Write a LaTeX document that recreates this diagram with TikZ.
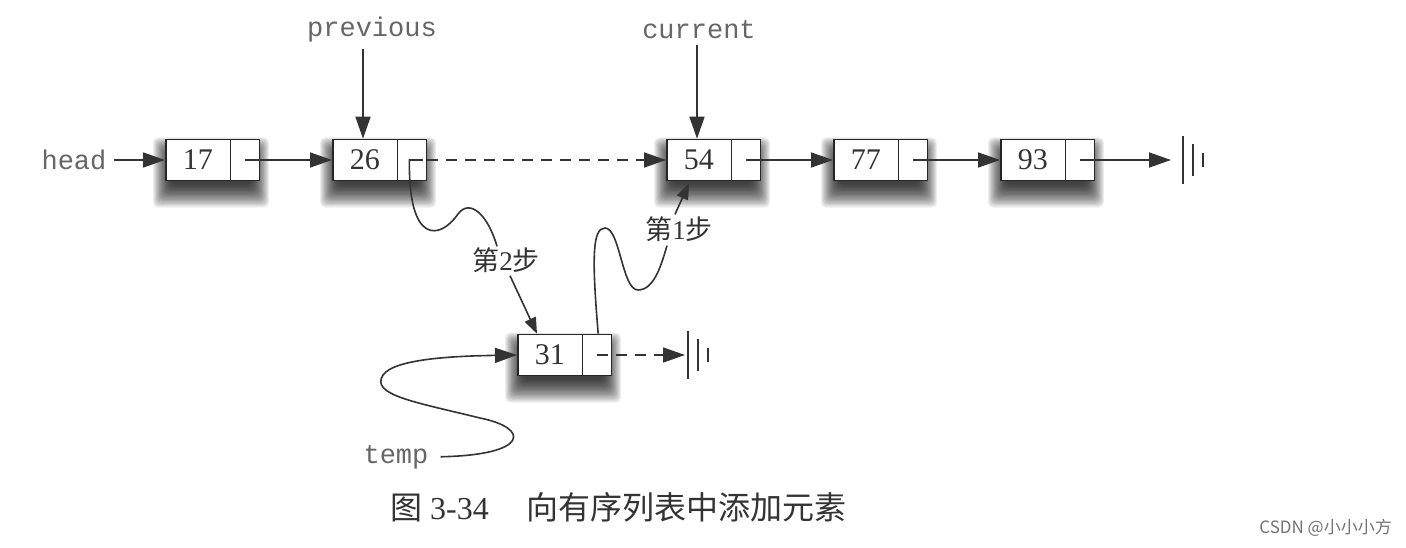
\documentclass[tikz,border=0pt]{standalone}
\usepackage{fontspec}
\setmainfont{Liberation Serif}
\setmonofont{Liberation Mono}
\newfontfamily\cjk{Noto Sans CJK SC}
\usetikzlibrary{calc,positioning,shapes.multipart,arrows.meta}

\tikzset{
  wire/.style={line width=1.6pt, color=black!80},
  arr/.style={wire, -{Triangle[length=22pt,width=15pt]}},
  sarr/.style={wire, -{Triangle[length=16pt,width=12pt]}},
  nilarr/.style={arr, dash pattern=on 11pt off 8pt},
  listnode/.style={rectangle split, rectangle split horizontal, rectangle split parts=2,
    draw=black!85, line width=1.6pt, fill=white, inner xsep=0pt, inner ysep=0pt,
    minimum height=41pt, font=\fontsize{30}{30}\selectfont, text=black!80, anchor=west},
  varname/.style={font=\ttfamily\fontsize{27}{27}\selectfont, text=black!60, inner sep=0pt},
  steplabel/.style={font=\fontsize{27}{27}\selectfont, text=black!80, inner sep=1pt},
}
% soft shadow under a box, then the box
\def\cell(#1)(#2,#3)#4{%
  \foreach \k in {-6,...,12}
    \fill[black, opacity=.065, rounded corners=5pt] (#2-\k, #3-10.5-\k) rectangle (#2+92+\k, #3+32+1.3*\k);
  \node[listnode] (#1) at (#2,#3) {\makebox[64pt]{#4}\nodepart{two}\makebox[28pt]{}};}
\def\earth(#1){\draw[wire] (#1)+(0,-24) -- +(0,24); \draw[wire] (#1)+(10,-16) -- +(10,16); \draw[wire] (#1)+(20,-7) -- +(20,7);}

\begin{document}
\begin{tikzpicture}[x=1pt,y=-1pt]
	%%%%% list %%%%%
	\useasboundingbox[fill=white] (0,0) rectangle (1406,548);
	
	\cell(n17)(165,160){17}
	\cell(n26)(332,160){26}
	\cell(n54)(666,160){54}
	\cell(n77)(833,160){77}
	\cell(n93)(1000,160){93}
	\cell(n31)(517,355){31}
	
	\coordinate (gnd1) at (1183,160);
	\coordinate (gnd2) at (688,355);
	\earth(gnd1)
	\earth(gnd2)
	
	\node[varname] (head) at (74,160) {head};
	\node[varname] (prev) at (372,30) {previous};
	\node[varname] (cur) at (699,30) {current};
	\node[varname] (temp) at (396,457) {temp};
	
	\draw[arr, shorten <=7pt] (head) -- (n17);
	\draw[arr] ($(n17.one split)!.5!(n17.east)$) -- (n26.west);
	\draw[nilarr] (n26.east) -- (n54.west);
	\draw[arr] ($(n54.one split)!.5!(n54.east)$) -- (n77.west);
	\draw[arr] ($(n77.one split)!.5!(n77.east)$) -- (n93.west);
	\draw[arr] ($(n93.one split)!.5!(n93.east)$) -- ($(gnd1)+(-12,0)$);
	\draw[nilarr] ($(n31.one split)!.5!(n31.east)$) -- ($(gnd2)+(-3,0)$);
	
	\draw[arr] ($(prev.south)+(-9,6)$) -- ($(n26.north west)+(31,0)$);
	\draw[arr] ($(cur.south)+(-2,6)$) -- ($(n54.north west)+(31,0)$);
	
	%%%%% steps %%%%%
	\node[steplabel] (step2) at (506,260) {{\cjk 第}2{\cjk 步}};
	\node[steplabel] (step1) at (679,229) {{\cjk 第}1{\cjk 步}};
	
	\draw[wire] ($(n26.one split)!.85!(n26.east)$) -- ($(n26.one split)!.4!(n26.east)$)
		.. controls (408,245) and (440,240) .. (458,214)
		.. controls (470,198) and (488,215) .. ($(step2.north)+(-9,0)$);
	\draw[sarr] ($(step2.south)+(4,2)$) -- ($(n31.north west)+(20,0)$);
	
	\draw[wire] ($(n31.north east)+(-14,0)$) .. controls (592,260) and (592,228) .. (605,228)
		.. controls (620,228) and (622,290) .. (638,290)
		.. controls (655,290) and (662,262) .. ($(step1.south)+(-12,3)$);
	\draw[sarr] ($(step1.north)+(-4,-1)$) -- ($(n54.south west)+(23,2)$);
	
	\draw[arr, shorten <=12pt] (temp.east) .. controls (530,455) and (530,428) .. (480,418)
		.. controls (415,402) and (370,395) .. (383,375)
		.. controls (395,358) and (460,356) .. (n31.west);
	
	%%%%% caption %%%%%
	\node[anchor=west, inner sep=0pt, text=black!80, font=\fontsize{32}{32}\selectfont] (cap) at (390,507)
		{{\cjk 图} 3-34\hspace{38pt}{\cjk 向有序列表中添加元素}};
	\node[anchor=east, inner sep=0pt, text=black!55, font=\cjk\fontsize{17}{17}\selectfont] (mark) at (1392,528)
		{CSDN @小小小方};
\end{tikzpicture}
\end{document}
